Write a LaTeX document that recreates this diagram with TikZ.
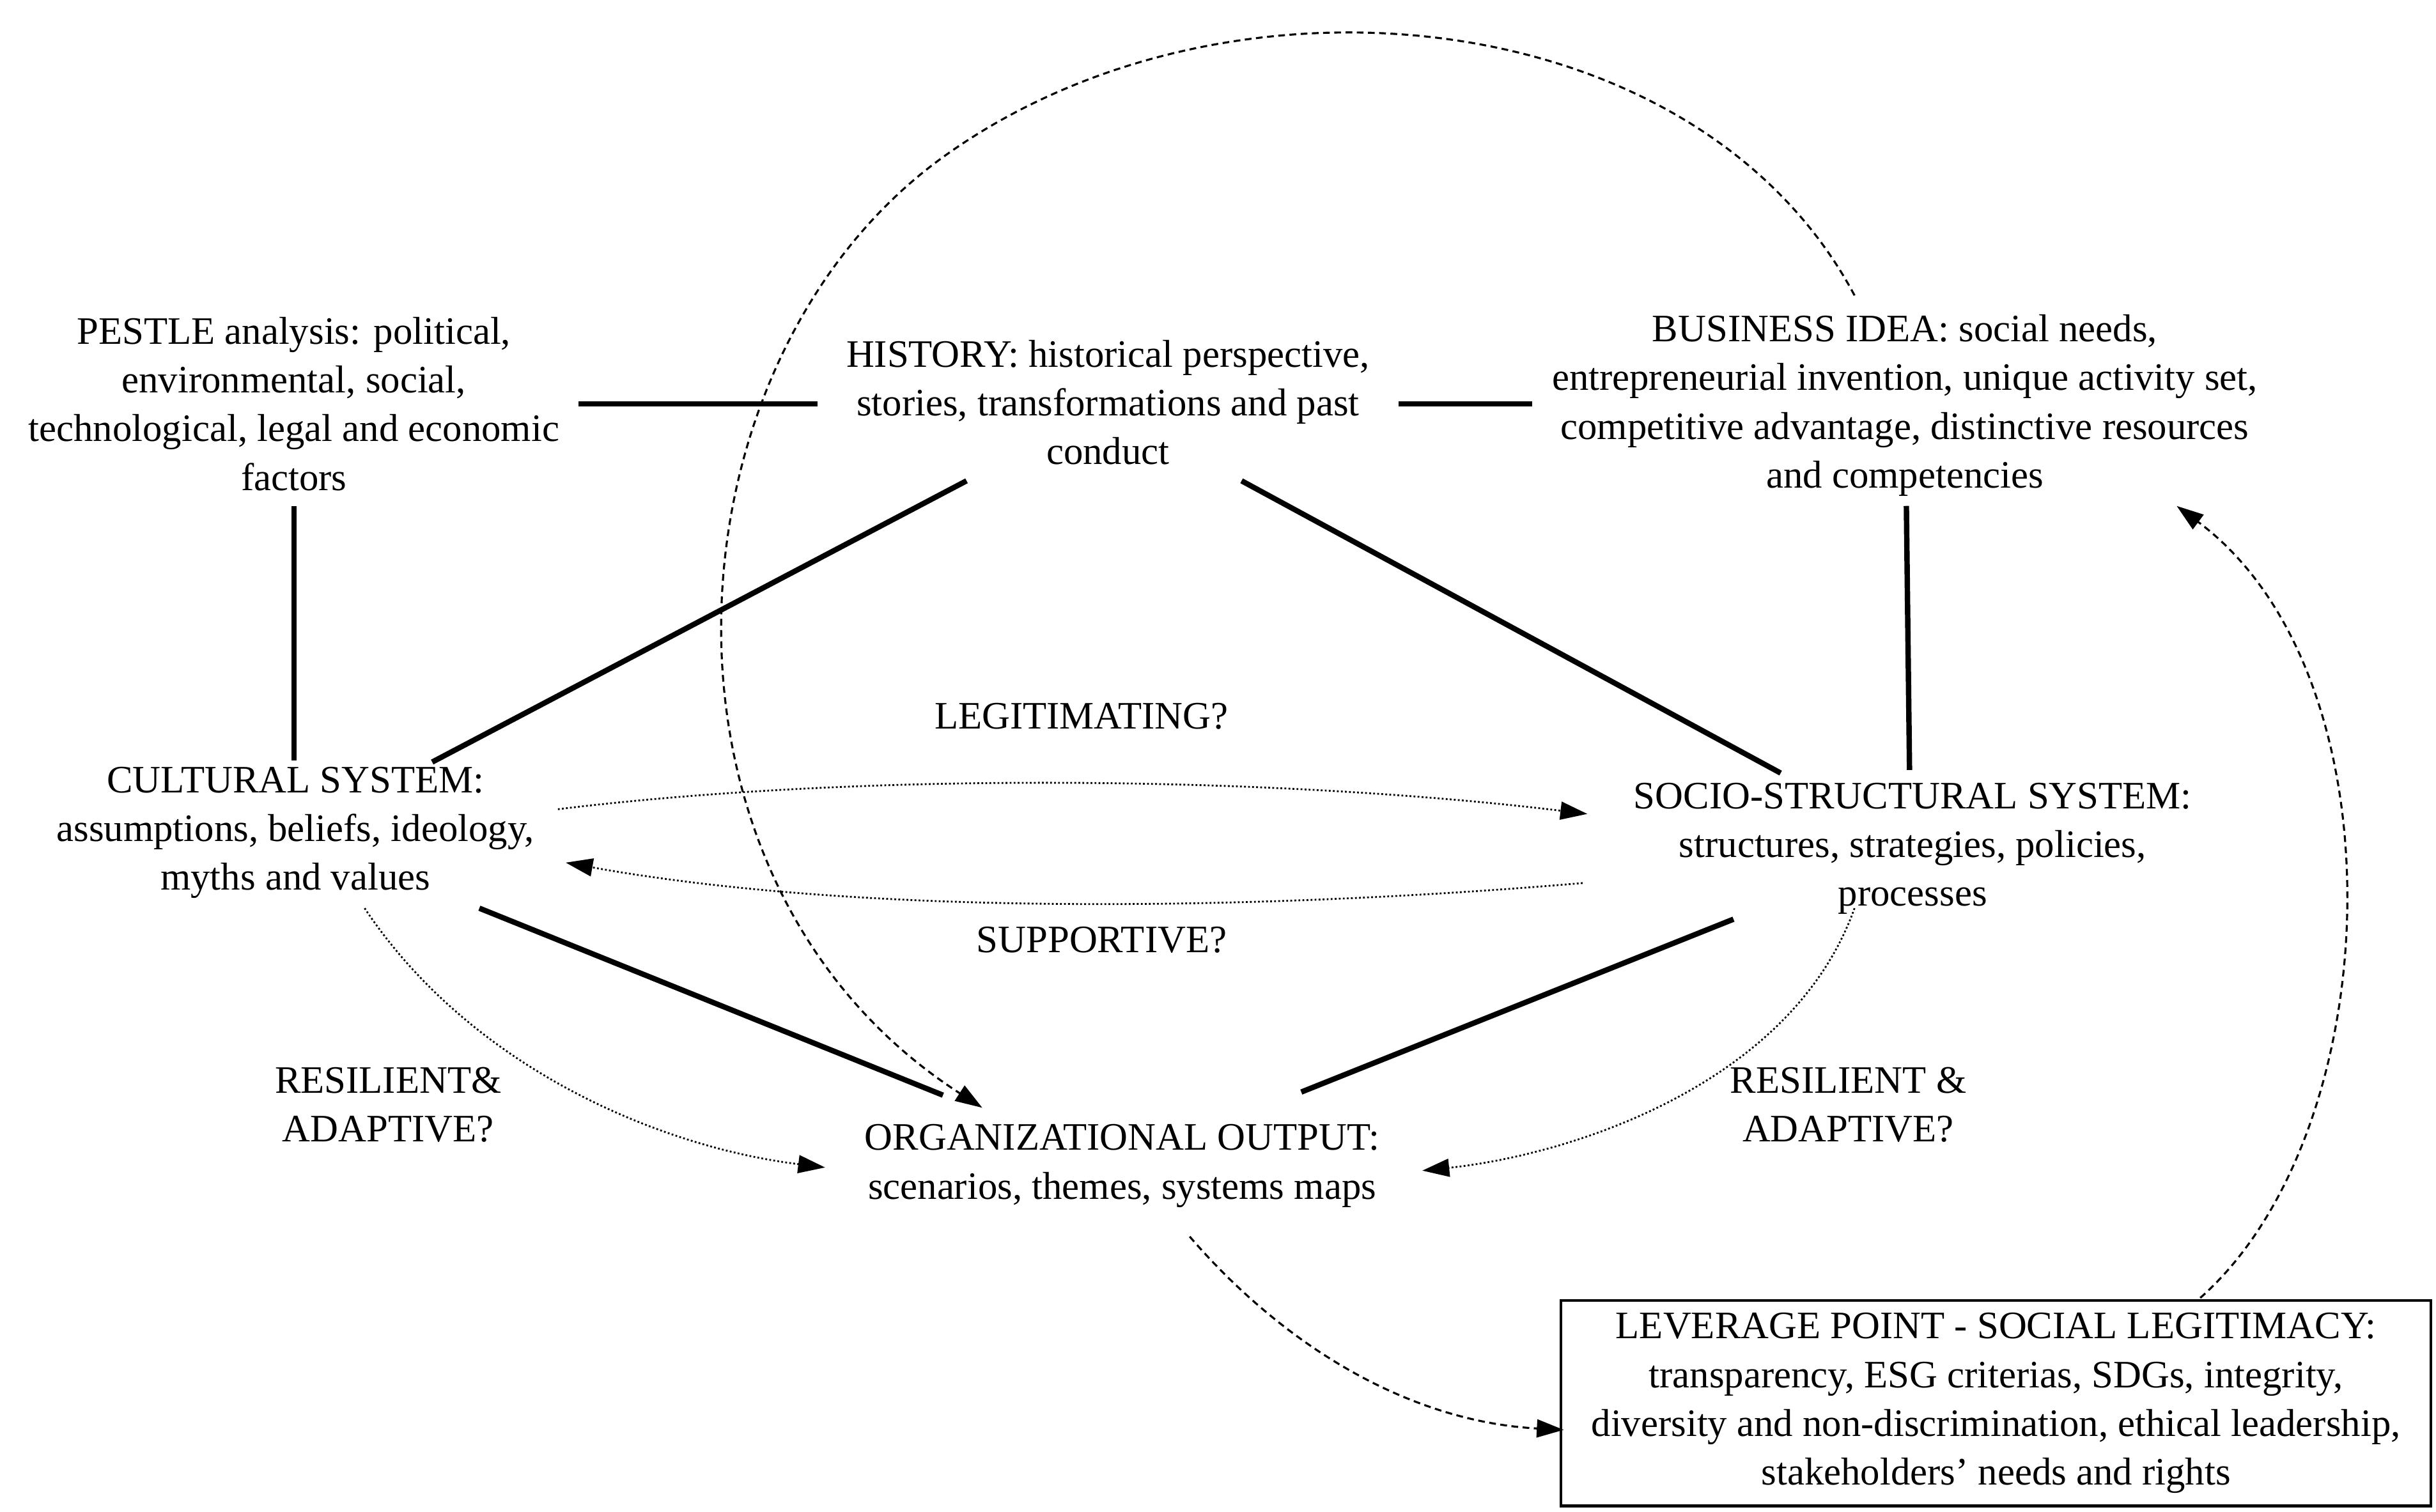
\documentclass[tikz,border=0pt]{standalone}
\usepackage{fontspec}
\setmainfont{Liberation Serif}
\usetikzlibrary{arrows.meta}
\begin{document}
\begin{tikzpicture}[x=0.02459cm,y=-0.02459cm,
  txt/.style={align=center,font=\fontsize{17.3}{21.7}\selectfont,inner sep=2pt},
  thick line/.style={line width=2.4pt},
  dotarr/.style={densely dotted,line width=0.8pt,-{Triangle[length=12pt,width=8pt]}},
  dasharr/.style={dash pattern=on 3pt off 2pt,line width=0.9pt,-{Triangle[length=12pt,width=8pt]}}]
\useasboundingbox (0,0) rectangle (1550,962);
\node[txt] (pestle) at (187,257) {PESTLE analysis: political,\\environmental, social,\\technological, legal and economic\\factors};
\node[txt] (hist) at (705,256) {HISTORY: historical perspective,\\stories, transformations and past\\conduct};
\node[txt] (bus) at (1212,258) {BUSINESS IDEA: social needs,\\entrepreneurial invention, unique activity set,\\competitive advantage, distinctive resources\\and competencies};
\node[txt] (cult) at (188,530) {CULTURAL SYSTEM:\\assumptions, beliefs, ideology,\\myths and values};
\node[txt] (socio) at (1217,540) {SOCIO-STRUCTURAL SYSTEM:\\structures, strategies, policies,\\processes};
\node[txt] (org) at (714,742) {ORGANIZATIONAL OUTPUT:\\scenarios, themes, systems maps};
\node[txt,draw,line width=1.2pt,minimum width=13.62cm,minimum height=3.22cm,inner sep=3pt] (lev) at (1270,893) {LEVERAGE POINT - SOCIAL LEGITIMACY:\\transparency, ESG criterias, SDGs, integrity,\\diversity and non-discrimination, ethical leadership,\\stakeholders' needs and rights};
\node[txt] (legit) at (688,456) {LEGITIMATING?};
\node[txt] (supp) at (701,598) {SUPPORTIVE?};
\node[txt] (resL) at (247,703) {RESILIENT\&\\ADAPTIVE?};
\node[txt] (resR) at (1176,703) {RESILIENT \&\\ADAPTIVE?};
% coordinates
\coordinate (a1) at (368,257); \coordinate (a2) at (520,257);
\coordinate (b1) at (890,257); \coordinate (b2) at (975,257);
\coordinate (c1) at (187,322); \coordinate (c2) at (187,484);
\coordinate (d1) at (1213,322); \coordinate (d2) at (1215,490);
\coordinate (e1) at (615,306); \coordinate (e2) at (275,485);
\coordinate (f1) at (790,306); \coordinate (f2) at (1133,492);
\coordinate (g1) at (305,578); \coordinate (g2) at (600,697);
\coordinate (h1) at (1103,585); \coordinate (h2) at (828,695);
\foreach \p in {a,b,c,d,e,f,g,h} \draw[thick line] (\p1) -- (\p2);
\coordinate (cs1) at (355,515); \coordinate (cs2) at (1010,518);
\coordinate (sc1) at (1007,562); \coordinate (sc2) at (360,549);
\draw[dotarr] (cs1) .. controls (560,490) and (820,495) .. (cs2);
\draw[dotarr] (sc1) .. controls (820,578) and (560,585) .. (sc2);
\coordinate (rl1) at (232,578); \coordinate (rl2) at (525,743);
\coordinate (rr1) at (1180,578); \coordinate (rr2) at (905,745);
\draw[dotarr] (rl1) .. controls (300,680) and (420,730) .. (rl2);
\draw[dotarr] (rr1) .. controls (1140,690) and (1000,735) .. (rr2);
\coordinate (ci1) at (1180,188); \coordinate (ci2) at (625,705);
\draw[dasharr] (ci1) .. controls (1080,0) and (780,-30) .. (600,100)
  .. controls (420,230) and (400,560) .. (ci2);
\coordinate (o1) at (757,787); \coordinate (o2) at (995,910);
\draw[dasharr] (o1) .. controls (820,860) and (900,905) .. (o2);
\coordinate (l1) at (1400,826); \coordinate (l2) at (1385,322);
\draw[dasharr] (l1) .. controls (1520,720) and (1530,430) .. (l2);
\end{tikzpicture}
\end{document}
